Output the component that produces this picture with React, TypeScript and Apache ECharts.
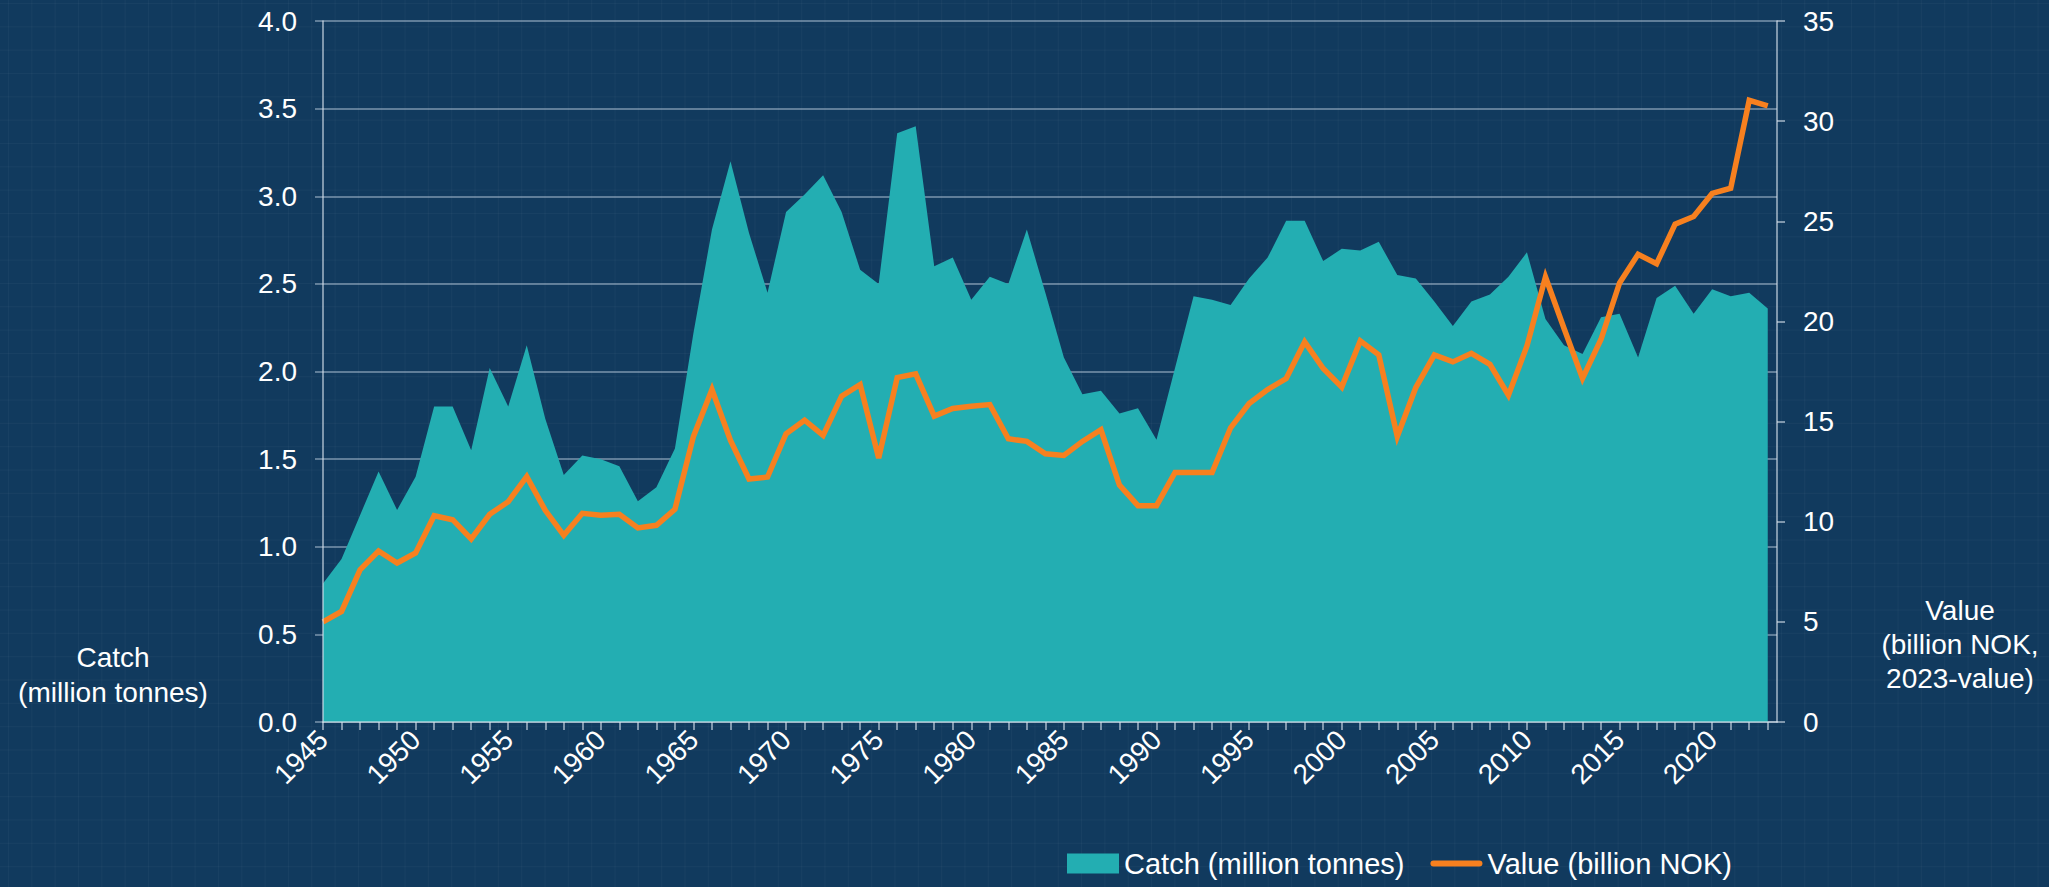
import React, { useEffect, useRef } from "react";
import * as echarts from "echarts";

const years: number[] = [];
for (let y = 1945; y <= 2023; y++) years.push(y);

const catchValues = [
  0.79, 0.93, 1.18, 1.43, 1.21, 1.40, 1.80, 1.80, 1.55, 2.02,
  1.80, 2.15, 1.73, 1.41, 1.52, 1.50, 1.46, 1.26, 1.34, 1.56,
  2.22, 2.81, 3.20, 2.79, 2.45, 2.91, 3.01, 3.12, 2.91, 2.58,
  2.50, 3.36, 3.40, 2.60, 2.65, 2.41, 2.54, 2.50, 2.81, 2.45,
  2.08, 1.87, 1.89, 1.76, 1.79, 1.61, 2.02, 2.43, 2.41, 2.38,
  2.53, 2.65, 2.86, 2.86, 2.63, 2.70, 2.69, 2.74, 2.55, 2.53,
  2.40, 2.26, 2.40, 2.44, 2.54, 2.68, 2.30, 2.15, 2.10, 2.31,
  2.33, 2.08, 2.42, 2.49, 2.33, 2.47, 2.43, 2.45, 2.36,
];

const valueNOK = [
  5.0, 5.52, 7.6, 8.54, 7.94, 8.44, 10.3, 10.1, 9.14, 10.37,
  11.0, 12.25, 10.57, 9.32, 10.42, 10.32, 10.37, 9.69, 9.82, 10.62,
  14.26, 16.6, 14.06, 12.13, 12.23, 14.39, 15.07, 14.31, 16.27, 16.85,
  13.18, 17.2, 17.38, 15.27, 15.65, 15.77, 15.85, 14.14, 14.01, 13.39,
  13.31, 14.01, 14.59, 11.83, 10.8, 10.8, 12.46, 12.46, 12.46, 14.69,
  15.9, 16.6, 17.15, 18.98, 17.65, 16.72, 19.03, 18.33, 14.26, 16.7,
  18.33, 17.98, 18.41, 17.86, 16.32, 18.78, 22.22, 19.66, 17.15, 19.11,
  21.92, 23.35, 22.88, 24.86, 25.24, 26.39, 26.65, 31.04, 30.76,
];

const leftTicks = { min: 0, max: 4, interval: 0.5 };
const rightTicks = { min: 0, max: 35, interval: 5 };

const catchName = "Catch (million tonnes)";
const valueName = "Value (billion NOK)";
const leftAxisName = "Catch\n(million tonnes)";
const rightAxisName = "Value\n(billion NOK,\n2023-value)";

const FONT = "'Liberation Sans', Arial, sans-serif";
const TEAL = "#23aeb2";
const ORANGE = "#f7801f";
const AXIS = "rgba(215,225,235,0.75)";
const GRID = "rgba(195,210,225,0.6)";

export default function App() {
  const ref = useRef<HTMLDivElement>(null);

  useEffect(() => {
    if (!ref.current) return;
    const chart = echarts.init(ref.current, undefined, { renderer: "svg" });
    const labelStyle = { color: "#ffffff", fontSize: 28, fontFamily: FONT };

    chart.setOption({
      animation: false,
      backgroundColor: "transparent",
      textStyle: { fontFamily: FONT },
      grid: { left: 323, right: 272, top: 21, bottom: 165, containLabel: false },
      legend: {
        left: 1062,
        top: 844,
        itemWidth: 52,
        itemHeight: 20,
        itemGap: 26,
        textStyle: { color: "#ffffff", fontSize: 29, fontFamily: FONT },
        data: [
          { name: catchName, icon: "rect", itemStyle: { color: TEAL } },
          {
            name: valueName,
            icon: "path://M3,0 L49,0 A3,3 0 0 1 49,6 L3,6 A3,3 0 0 1 3,0 Z",
            itemStyle: { color: ORANGE },
          },
        ],
      },
      xAxis: {
        type: "value",
        min: 1945,
        max: 2023.5,
        interval: 1,
        z: 3,
        axisLine: { show: true, onZero: false, lineStyle: { color: AXIS, width: 1.5 } },
        axisTick: { show: true, length: 8, lineStyle: { color: AXIS, width: 1.5 } },
        splitLine: { show: false },
        axisLabel: {
          ...labelStyle,
          rotate: 45,
          margin: 13,
          showMaxLabel: false,
          formatter: (v: number) => (v % 5 === 0 ? String(v) : ""),
        },
      },
      yAxis: [
        {
          type: "value",
          position: "left",
          ...leftTicks,
          axisLine: { show: false },
          axisTick: { show: true, length: 8, lineStyle: { color: GRID, width: 1.5 } },
          splitLine: { show: true, lineStyle: { color: GRID, width: 1.5 } },
          axisLabel: { ...labelStyle, margin: 26, formatter: (v: number) => v.toFixed(1) },
        },
        {
          type: "value",
          position: "right",
          ...rightTicks,
          axisLine: { show: true, lineStyle: { color: AXIS, width: 1.5 } },
          axisTick: { show: true, length: 8, lineStyle: { color: AXIS, width: 1.5 } },
          splitLine: { show: false },
          axisLabel: { ...labelStyle, margin: 26 },
        },
        {
          type: "value",
          position: "left",
          ...leftTicks,
          z: 4,
          axisLine: { show: true, lineStyle: { color: AXIS, width: 1.5 } },
          axisTick: { show: false },
          axisLabel: { show: false },
          splitLine: { show: false },
        },
      ],
      graphic: [
        {
          type: "text",
          x: 113,
          y: 675,
          style: {
            text: leftAxisName,
            fill: "#ffffff",
            font: `28px ${FONT}`,
            lineHeight: 35,
            align: "center",
            verticalAlign: "middle",
          },
        },
        {
          type: "text",
          x: 1960,
          y: 644,
          style: {
            text: rightAxisName,
            fill: "#ffffff",
            font: `28px ${FONT}`,
            lineHeight: 34,
            align: "center",
            verticalAlign: "middle",
          },
        },
      ],
      series: [
        {
          name: catchName,
          type: "line",
          yAxisIndex: 0,
          symbol: "none",
          color: TEAL,
          lineStyle: { width: 0, color: TEAL },
          areaStyle: { color: TEAL, opacity: 1 },
          z: 2,
          data: years.map((y, i) => [y, catchValues[i]]),
        },
        {
          name: valueName,
          type: "line",
          yAxisIndex: 1,
          symbol: "none",
          color: ORANGE,
          lineStyle: { width: 5.5, color: ORANGE, join: "miter", cap: "butt" },
          z: 3,
          data: years.map((y, i) => [y, valueNOK[i]]),
        },
      ],
    });

    return () => chart.dispose();
  }, []);

  return (
    <div
      ref={ref}
      style={{
        position: "absolute",
        left: 0,
        top: 0,
        width: 2049,
        height: 887,
        backgroundColor: "#113a5e",
        backgroundImage:
          "linear-gradient(rgba(255,255,255,0.03) 1px, transparent 1px), linear-gradient(90deg, rgba(255,255,255,0.03) 1px, transparent 1px)",
        backgroundSize: "23.33px 23.33px",
        backgroundPosition: "8px 3px",
      }}
    />
  );
}
